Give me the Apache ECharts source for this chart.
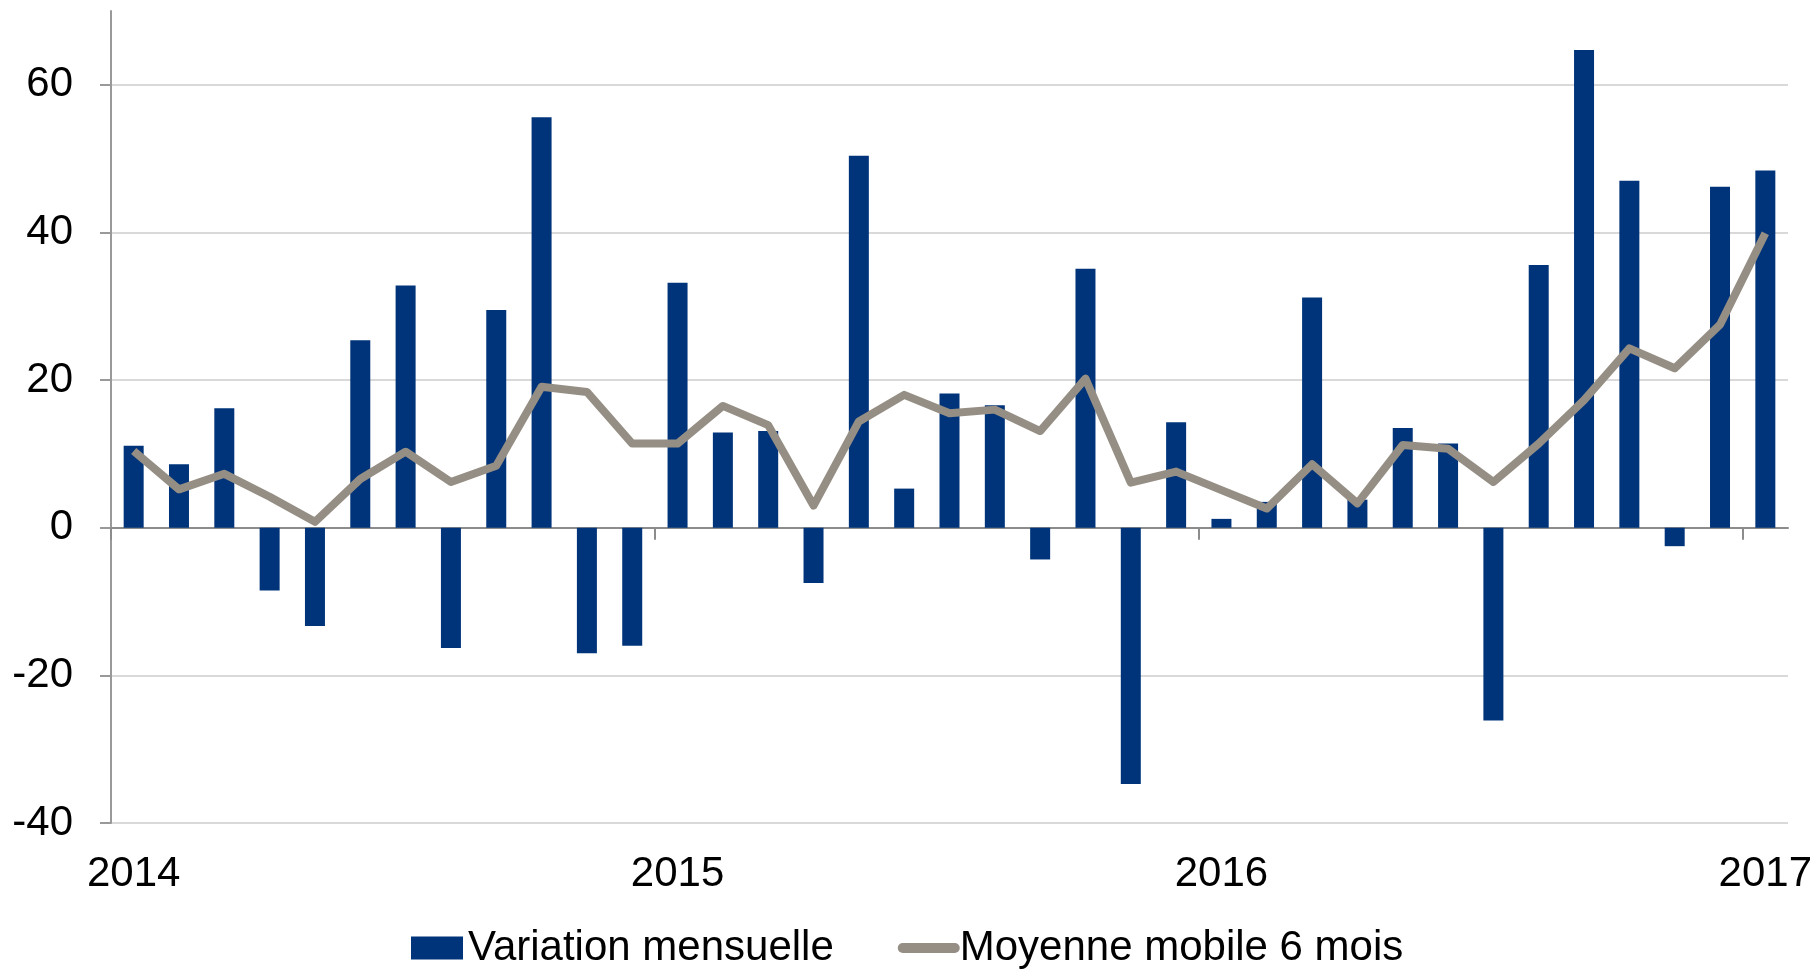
<!DOCTYPE html>
<html>
<head>
<meta charset="utf-8">
<script src="https://cdn.jsdelivr.net/npm/echarts@6/dist/echarts.min.js"></script>
<style>
  html, body { margin: 0; padding: 0; background: #ffffff; }
  #chart { width: 1815px; height: 970px; }
</style>
</head>
<body>
<div id="chart"></div>
<script>
// ---- data ----
const months = [
  '2014-01','2014-02','2014-03','2014-04','2014-05','2014-06','2014-07','2014-08','2014-09','2014-10','2014-11','2014-12',
  '2015-01','2015-02','2015-03','2015-04','2015-05','2015-06','2015-07','2015-08','2015-09','2015-10','2015-11','2015-12',
  '2016-01','2016-02','2016-03','2016-04','2016-05','2016-06','2016-07','2016-08','2016-09','2016-10','2016-11','2016-12',
  '2017-01'
];
const yearLabels = ['2014', '2015', '2016', '2017'];
const variationMensuelle = [
  11.1, 8.6, 16.2, -8.5, -13.3, 25.4, 32.8, -16.3, 29.5, 55.6, -17.0, -16.0,
  33.2, 12.9, 13.1, -7.5, 50.4, 5.3, 18.2, 16.6, -4.3, 35.1, -34.7, 14.3,
  1.2, 3.5, 31.2, 3.8, 13.5, 11.4, -26.1, 35.6, 64.7, 47.0, -2.5, 46.2,
  48.4
];
const moyenneMobile6Mois = [
  10.4, 5.2, 7.3, 4.2, 0.8, 6.6, 10.3, 6.2, 8.4, 19.1, 18.4, 11.4,
  11.4, 16.5, 13.9, 3.0, 14.4, 18.0, 15.5, 16.0, 13.1, 20.2, 6.1, 7.6,
  5.1, 2.6, 8.6, 3.3, 11.2, 10.7, 6.2, 11.4, 17.3, 24.3, 21.6, 27.5,
  39.9
];
const seriesNames = ['Variation mensuelle', 'Moyenne mobile 6 mois'];

// ---- layout ----
const W = 1815, H = 970;
const gLeft = 111, gRight = 27, gTop = 11, gBottom = 147;
const yMin = -40, yMaxAxis = 70, yMaxGrid = 60, yStep = 20;
const unit = (H - gTop - gBottom) / (yMaxAxis - yMin);
const gTop2 = gTop + (yMaxAxis - yMaxGrid) * unit;
const band = (W - gLeft - gRight) / months.length;
const tickGridWidth = band * (months.length - 1);

const FONT = '"Liberation Sans", Arial, sans-serif';
const FS = 42;
const BAR_COLOR = '#00347A';
const LINE_COLOR = '#958E84';
const AXIS_COLOR = '#8C8C8C';
const GRID_COLOR = '#D9D9D9';

const chart = echarts.init(document.getElementById('chart'), null, { renderer: 'canvas' });

chart.setOption({
  animation: false,
  backgroundColor: '#ffffff',
  textStyle: { fontFamily: FONT },
  grid: [
    { left: gLeft, right: gRight, top: gTop, bottom: gBottom },
    { left: gLeft, right: gRight, top: gTop2, bottom: gBottom },
    { left: gLeft, width: tickGridWidth, top: gTop2, bottom: gBottom }
  ],
  legend: {
    left: 406,
    top: 922,
    itemWidth: 52,
    itemHeight: 23,
    itemGap: 64,
    textStyle: { fontSize: FS, color: '#000000', fontFamily: FONT },
    data: [
      { name: seriesNames[0], icon: 'rect' },
      {
        name: seriesNames[1],
        lineStyle: { width: 10, cap: 'round', color: LINE_COLOR },
        itemStyle: { color: 'rgba(0,0,0,0)', borderWidth: 0, opacity: 0 }
      }
    ]
  },
  xAxis: [
    { // data axis, line at zero
      type: 'category', gridIndex: 0, data: months,
      axisLine: { show: true, onZero: true, lineStyle: { color: AXIS_COLOR, width: 2 } },
      axisTick: { show: false },
      axisLabel: { show: false },
      splitLine: { show: false }
    },
    { // year labels at bottom
      type: 'category', gridIndex: 1, data: months, position: 'bottom',
      axisLine: { show: false, onZero: false },
      axisTick: { show: false },
      axisLabel: {
        show: true, interval: 11, margin: 30,
        fontSize: FS, color: '#000000', fontFamily: FONT,
        formatter: function (v) {
          const idx = months.indexOf(v);
          return yearLabels[Math.floor(idx / 12)] || '';
        }
      },
      splitLine: { show: false }
    },
    { // year boundary ticks on the zero line
      type: 'value', gridIndex: 2, min: 0, max: 36, interval: 12,
      axisLine: { show: false, onZero: true },
      axisTick: { show: true, length: 12, lineStyle: { color: AXIS_COLOR, width: 2 } },
      axisLabel: { show: false },
      splitLine: { show: false }
    }
  ],
  yAxis: [
    {
      type: 'value', gridIndex: 0, min: yMin, max: yMaxAxis,
      axisLine: { show: true, lineStyle: { color: '#999999', width: 2 } },
      axisTick: { show: false },
      axisLabel: { show: false },
      splitLine: { show: false }
    },
    {
      type: 'value', gridIndex: 1, min: yMin, max: yMaxGrid, interval: yStep,
      axisLine: { show: false },
      axisTick: { show: true, length: 11, lineStyle: { color: '#999999', width: 2 } },
      axisLabel: { show: true, margin: 38, fontSize: FS, color: '#000000', fontFamily: FONT },
      splitLine: { show: true, lineStyle: { color: GRID_COLOR, width: 2 } }
    },
    {
      type: 'value', gridIndex: 2, min: yMin, max: yMaxGrid, interval: yStep,
      show: false
    }
  ],
  series: [
    {
      name: seriesNames[0], type: 'bar', xAxisIndex: 0, yAxisIndex: 0,
      data: variationMensuelle,
      barWidth: 20,
      itemStyle: { color: BAR_COLOR },
      z: 2
    },
    {
      name: seriesNames[1], type: 'line', xAxisIndex: 0, yAxisIndex: 0,
      data: moyenneMobile6Mois,
      symbol: 'none',
      lineStyle: { color: LINE_COLOR, width: 8, join: 'round' },
      itemStyle: { color: LINE_COLOR },
      z: 3
    }
  ]
});
</script>
</body>
</html>
